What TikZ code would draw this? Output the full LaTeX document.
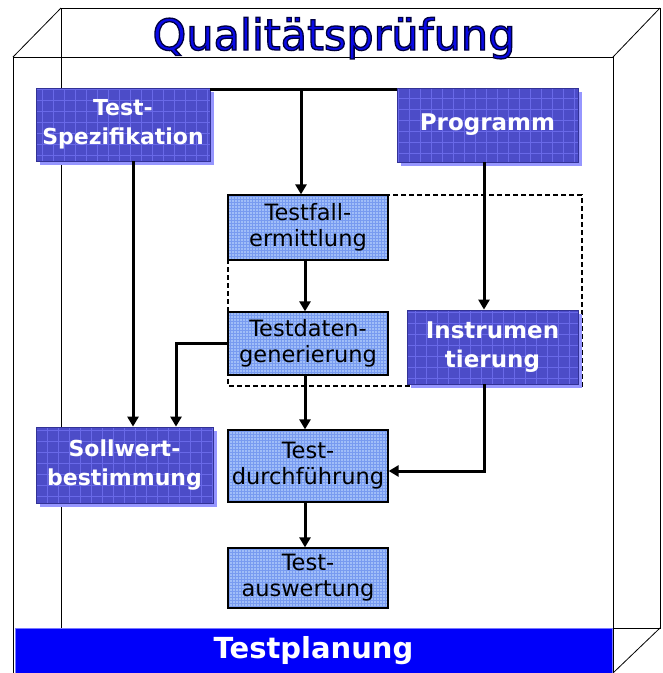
\documentclass[tikz,border=0pt]{standalone}
\usepackage{fontspec}
\setmainfont{DejaVu Sans}
\usetikzlibrary{arrows.meta,shadows,calc}
\definecolor{darkfill}{RGB}{76,76,200}
\definecolor{darkedge}{RGB}{50,50,150}
\definecolor{gridcol}{RGB}{105,105,232}
\definecolor{shadowcol}{RGB}{150,150,255}
\definecolor{lightfill}{RGB}{160,190,248}
\definecolor{lightgrid}{RGB}{120,155,240}
\definecolor{titleblue}{RGB}{10,10,230}
\definecolor{barblue}{RGB}{0,0,250}
\definecolor{baredge}{RGB}{120,120,255}
\newcommand{\outlinedtext}[1]{\special{pdf:literal direct q 2 Tr 1.3 w 0 0 0.25 RG}#1\special{pdf:literal direct Q}}
\tikzset{
  darkbox/.style={draw=darkedge, line width=0.8pt, fill=darkfill, text=white,
    font=\bfseries\fontsize{22}{29}\selectfont, align=center, inner sep=0pt,
    drop shadow={shadow xshift=4pt, shadow yshift=-4pt, fill=shadowcol, opacity=1},
    path picture={\draw[gridcol, line width=0.6pt, step=11pt]
      (path picture bounding box.south west) grid (path picture bounding box.north east);}},
  lightbox/.style={draw=black, line width=1.2pt, fill=lightfill, text=black,
    font=\fontsize{22.5}{26}\selectfont, align=center, inner sep=0pt,
    path picture={\draw[lightgrid, line width=0.4pt, step=3pt]
      (path picture bounding box.south west) grid (path picture bounding box.north east);}},
  conn/.style={line width=3pt},
  arr/.style={line width=3pt, -{Triangle[length=10pt,width=11pt]}},
  cube/.style={line width=0.8pt, black},
  dashbox/.style={line width=1.2pt, dash pattern=on 5pt off 3pt},
}
\begin{document}
\begin{tikzpicture}[x=1pt,y=-1pt]
\useasboundingbox (0,0) rectangle (663,673);
% cube wireframe
\draw[cube] (61,8) rectangle (660,628);
\draw[cube] (13,57) rectangle (613,690);
\draw[cube] (13,57) -- (61,8);
\draw[cube] (613,57) -- (660,8);
\draw[cube] (613,673) -- (660,628);
% title
\node (title) [anchor=base, text=titleblue, font=\fontsize{43}{43}\selectfont] at (334,50) {\outlinedtext{Qualitätsprüfung}};
% dashed region
\draw[dashbox] (228,195) rectangle (582,386);
% boxes
\node (spec) [darkbox, minimum width=174pt, minimum height=73pt] at (123,124.5) {Test-\\Spezifikation};
\node (prog) [darkbox, minimum width=181pt, minimum height=74pt, font=\bfseries\fontsize{23}{29}\selectfont] at (487.5,125) {Programm};
\node (instr) [darkbox, minimum width=171pt, minimum height=74pt, font=\bfseries\fontsize{23}{29}\selectfont] at (492.5,347) {Instrumen\\tierung};
\node (soll) [darkbox, minimum width=177pt, minimum height=76pt] at (124.5,465) {Sollwert-\\bestimmung};
\node (fall) [lightbox, minimum width=160pt, minimum height=65pt] at (308,227.5) {Testfall-\\ermittlung};
\node (daten) [lightbox, minimum width=160pt, minimum height=63pt] at (308,343.5) {Testdaten-\\generierung};
\node (durch) [lightbox, minimum width=160pt, minimum height=72pt] at (308,466) {Test-\\durchführung};
\node (ausw) [lightbox, minimum width=160pt, minimum height=60pt] at (308,578) {Test-\\auswertung};
% connectors
\draw[conn] ([yshift=-1.5pt]spec.north east) -- ([yshift=-1.5pt]prog.north west);
\coordinate (j) at (301,89.5);
\draw[arr] (j) -- (j |- fall.north);
\draw[arr] ([xshift=10pt]spec.south) -- ([xshift=10pt]spec.south |- soll.north);
\draw[arr] (daten.west) -| ([xshift=51.5pt]soll.north);
\draw[arr] ([xshift=-3pt]fall.south) -- ([xshift=-3pt]daten.north);
\draw[arr] ([xshift=-3pt]daten.south) -- ([xshift=-3pt]durch.north);
\draw[arr] ([xshift=-3pt]durch.south) -- ([xshift=-3pt]ausw.north);
\draw[arr] ([xshift=-3.5pt]prog.south) -- ([xshift=-3.5pt]prog.south |- instr.north);
\draw[arr] ([xshift=-8.5pt]instr.south) |- ([yshift=-5pt]durch.east);
% bottom bar
\node (plan) [fill=barblue, draw=baredge, line width=1pt, minimum width=597pt, minimum height=45pt, inner sep=0pt,
  text=white, font=\bfseries\fontsize{29}{29}\selectfont] at (313.5,651) {Testplanung};
\end{tikzpicture}
\end{document}
